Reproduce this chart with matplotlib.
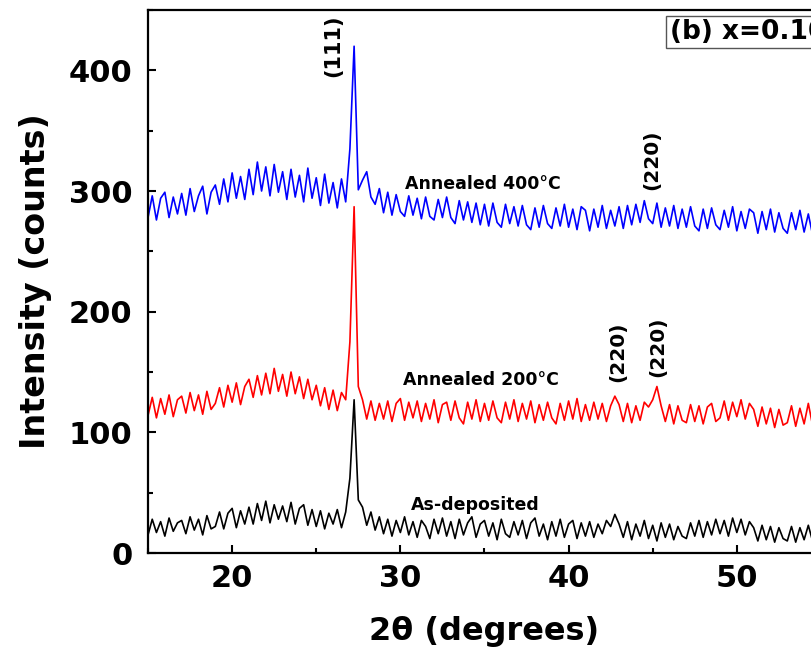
import numpy as np
import matplotlib
matplotlib.use('Agg')
from matplotlib import pyplot as plt
from matplotlib.ticker import MultipleLocator

plt.rcParams['font.family'] = ['DejaVu Sans']
plt.rcParams['font.weight'] = 'bold'

# 2theta grid (degrees), one reading every 0.25 deg
two_theta = np.arange(15, 55.001, 0.25)

# intensities (counts)
as_deposited = [
    15, 28, 17, 26, 14, 29, 18, 25,
    27, 16, 30, 19, 28, 15, 31, 20,
    22, 34, 20, 33, 37, 21, 35, 24,
    38, 24, 41, 27, 43, 25, 40, 28,
    39, 26, 42, 24, 37, 40, 23, 36,
    22, 35, 20, 33, 24, 36, 21, 34,
    62, 127, 44, 38, 23, 34, 19, 30,
    16, 28, 14, 27, 17, 30, 15, 26,
    13, 27, 22, 12, 28, 16, 29, 14,
    26, 12, 28, 15, 25, 30, 13, 24,
    27, 14, 25, 11, 28, 16, 13, 26,
    15, 27, 12, 25, 29, 14, 24, 11,
    26, 14, 28, 13, 24, 27, 12, 25,
    14, 26, 13, 24, 16, 27, 22, 32,
    24, 13, 26, 11, 24, 14, 27, 12,
    23, 10, 25, 13, 24, 11, 22, 14,
    12, 25, 14, 27, 13, 26, 15, 28,
    16, 27, 14, 29, 17, 28, 15, 26,
    21, 10, 23, 11, 22, 9, 21, 12,
    10, 22, 9, 21, 11, 23, 10, 20,
    13,
]

annealed_200 = [
    114, 129, 112, 128, 115, 131, 113, 127,
    130, 116, 133, 118, 131, 115, 134, 119,
    124, 137, 121, 139, 125, 141, 123, 138,
    144, 129, 147, 131, 149, 132, 153, 134,
    148, 130, 150, 132, 146, 128, 144, 127,
    139, 122, 137, 119, 135, 118, 133, 127,
    175, 287, 138, 127, 111, 126, 110, 124,
    111, 126, 109, 124, 128, 110, 125, 112,
    126, 109, 124, 111, 127, 108, 123, 125,
    110, 126, 112, 107, 125, 111, 127, 109,
    124, 110, 126, 112, 108, 125, 111, 127,
    109, 124, 111, 126, 108, 123, 110, 125,
    112, 107, 124, 110, 126, 111, 128, 109,
    123, 110, 125, 111, 124, 109, 122, 130,
    123, 109, 124, 108, 122, 110, 125, 121,
    127, 138, 122, 109, 123, 107, 122, 110,
    108, 123, 109, 122, 107, 121, 124, 109,
    112, 126, 110, 125, 113, 127, 111, 124,
    119, 105, 121, 107, 120, 104, 119, 106,
    108, 122, 105, 120, 107, 124, 106, 119,
    110,
]

annealed_400 = [
    278, 296, 276, 294, 299, 278, 295, 281,
    298, 280, 302, 283, 296, 304, 281, 299,
    305, 289, 310, 291, 315, 294, 312, 293,
    318, 297, 324, 300, 320, 296, 322, 299,
    316, 293, 318, 295, 313, 291, 319, 294,
    311, 288, 314, 290, 307, 286, 310, 291,
    335, 420, 301, 309, 316, 295, 289, 302,
    282, 299, 280, 297, 283, 279, 296, 280,
    294, 277, 295, 279, 276, 293, 278, 295,
    278, 273, 292, 276, 291, 274, 290, 272,
    289, 271, 290, 274, 270, 289, 273, 287,
    271, 288, 272, 268, 286, 270, 288, 273,
    269, 286, 271, 289, 270, 285, 268, 287,
    284, 267, 285, 270, 288, 269, 284, 271,
    287, 269, 288, 272, 289, 274, 292, 277,
    273, 290, 270, 286, 271, 288, 269, 285,
    270, 287, 271, 267, 285, 269, 286, 272,
    268, 284, 270, 287, 267, 283, 269, 285,
    282, 265, 283, 268, 285, 266, 282, 269,
    265, 282, 268, 284, 266, 281, 264, 280,
    272,
]

fig = plt.figure(figsize=(8.12, 6.54), dpi=100)
# axes run past the right edge, as in the cropped original
ax = fig.add_axes([0.1823, 0.1544, 0.9323, 0.8303])

ax.plot(two_theta, as_deposited, color='black', lw=1.2)
ax.plot(two_theta, annealed_200, color='red', lw=1.2)
ax.plot(two_theta, annealed_400, color='blue', lw=1.2)

ax.set_xlim(15, 60)
ax.set_ylim(0, 450)
ax.set_xticks([20, 30, 40, 50])
ax.xaxis.set_minor_locator(MultipleLocator(5))
ax.yaxis.set_major_locator(MultipleLocator(100))
ax.yaxis.set_minor_locator(MultipleLocator(50))
ax.tick_params(which='both', direction='in', width=1.5, labelsize=22)
ax.tick_params(which='major', length=6)
ax.tick_params(which='minor', length=3.5)
ax.tick_params(axis='x', pad=8)
ax.tick_params(axis='y', pad=11)
for lab in ax.get_xticklabels() + ax.get_yticklabels():
    lab.set_fontweight('bold')
for sp in ax.spines.values():
    sp.set_linewidth(1.6)

ax.text(0.444, -0.145, '2θ (degrees)', transform=ax.transAxes,
        ha='center', va='center', fontsize=23, fontweight='bold')
ax.text(-0.149, 0.5, 'Intensity (counts)', transform=ax.transAxes,
        rotation=90, ha='center', va='center', fontsize=24, fontweight='bold')

# curve labels
ax.text(30.3, 306, 'Annealed 400°C', fontsize=12.5, fontweight='bold', va='center')
ax.text(30.15, 143, 'Annealed 200°C', fontsize=12.5, fontweight='bold', va='center')
ax.text(30.6, 40, 'As-deposited', fontsize=12.5, fontweight='bold', va='center')

# peak indices
ax.text(26.0, 420, '(111)', rotation=90, fontsize=15, fontweight='bold',
        ha='center', va='center')
ax.text(44.95, 326, '(220)', rotation=90, fontsize=14.5, fontweight='bold',
        ha='center', va='center')
ax.text(42.9, 167, '(220)', rotation=90, fontsize=14.5, fontweight='bold',
        ha='center', va='center')
ax.text(45.3, 171, '(220)', rotation=90, fontsize=14.5, fontweight='bold',
        ha='center', va='center')

ax.text(46.0, 432, '(b) x=0.10', fontsize=19, fontweight='bold', va='center',
        bbox=dict(boxstyle='square,pad=0.12', fc='white', ec='#555555', lw=1))

fig.savefig('out.png', dpi=100)
